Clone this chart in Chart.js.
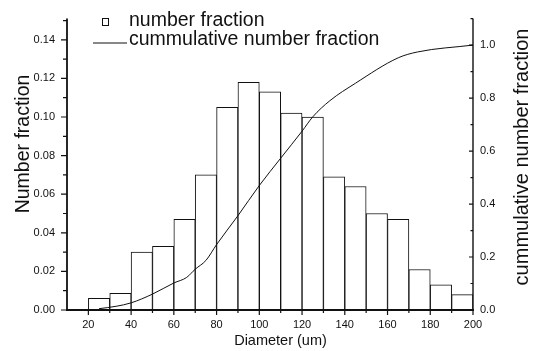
<!DOCTYPE html>
<html>
<head>
<meta charset="utf-8">
<script src="https://cdn.jsdelivr.net/npm/chart.js@4"></script>
<style>
html,body{margin:0;padding:0;background:#fff;}
#wrap{position:relative;width:536px;height:351px;}
</style>
</head>
<body>
<div id="wrap"><canvas id="c"></canvas></div>
<script>
// ---- data ----
const binStarts = [20,30,40,50,60,70,80,90,100,110,120,130,140,150,160,170,180,190];
const binWidth = 10;
const numberFraction = [0.006,0.0086,0.030,0.033,0.047,0.070,0.105,0.118,0.113,0.102,0.100,0.069,0.064,0.050,0.047,0.021,0.013,0.008];
const cumDiameter = [25,33,40,50,60,66,70,75,80,90,100,110,120,125,133,145,165,174,200];
const cumFraction = [0.005,0.014,0.027,0.060,0.102,0.123,0.154,0.187,0.247,0.356,0.470,0.573,0.675,0.729,0.790,0.856,0.952,0.974,1.000];
const xTicks = [20,40,60,80,100,120,140,160,180,200];
const yTicks = [0,0.02,0.04,0.06,0.08,0.10,0.12,0.14];
const y2Ticks = [0,0.2,0.4,0.6,0.8,1.0];
const xTitle = 'Diameter (um)';
const yTitle = 'Number fraction';
const y2Title = 'cummulative number fraction';
const legendBar = 'number fraction';
const legendLine = 'cummulative number fraction';

const FONT = "'Liberation Sans', Arial, Helvetica, sans-serif";
const INK = '#111';

const barData = binStarts.map((s, i) => ({x: s + binWidth / 2, y: numberFraction[i]}));
const lineData = cumDiameter.map((d, i) => ({x: d, y: cumFraction[i]}));

function mids(arr, extraEnd) {
  const out = [];
  for (let i = 0; i < arr.length - 1; i++) out.push((arr[i] + arr[i + 1]) / 2);
  if (extraEnd !== undefined) out.push(arr[arr.length - 1] + (arr[1] - arr[0]) / 2);
  return out;
}

const decor = {
  id: 'decor',
  afterDraw(chart) {
    const ctx = chart.ctx;
    const a = chart.chartArea;
    const sx = chart.scales.x, sy = chart.scales.y, sy2 = chart.scales.y2;
    ctx.save();
    ctx.strokeStyle = INK;
    ctx.fillStyle = INK;
    // axis lines
    ctx.lineWidth = 1.8;
    ctx.beginPath();
    ctx.moveTo(a.left, a.top); ctx.lineTo(a.left, a.bottom + 1);
    ctx.moveTo(a.left - 1, a.bottom); ctx.lineTo(a.right + 1, a.bottom);
    ctx.stroke();
    ctx.lineWidth = 1.4;
    ctx.beginPath();
    ctx.moveTo(a.right, a.top); ctx.lineTo(a.right, a.bottom);
    ctx.stroke();
    // ticks
    ctx.lineWidth = 1.2;
    ctx.beginPath();
    xTicks.forEach(v => { const p = sx.getPixelForValue(v); ctx.moveTo(p, a.bottom); ctx.lineTo(p, a.bottom + 5); });
    mids(xTicks).concat([xTicks[0] - 10].filter(v => v > sx.min)).forEach(v => { const p = sx.getPixelForValue(v); ctx.moveTo(p, a.bottom); ctx.lineTo(p, a.bottom + 3); });
    yTicks.forEach(v => { const p = sy.getPixelForValue(v); ctx.moveTo(a.left, p); ctx.lineTo(a.left - 6, p); });
    mids(yTicks, true).filter(v => v <= sy.max).forEach(v => { const p = sy.getPixelForValue(v); ctx.moveTo(a.left, p); ctx.lineTo(a.left - 4, p); });
    y2Ticks.forEach(v => { const p = sy2.getPixelForValue(v); ctx.moveTo(a.right, p); ctx.lineTo(a.right - 4, p); });
    mids(y2Ticks, true).filter(v => v <= sy2.max + 1e-9).forEach(v => { const p = sy2.getPixelForValue(v); ctx.moveTo(a.right, p); ctx.lineTo(a.right - 2.5, p); });
    ctx.stroke();

    // axis titles
    ctx.textAlign = 'center';
    ctx.textBaseline = 'alphabetic';
    ctx.font = '14.5px ' + FONT;
    ctx.fillText(xTitle, 280.5, 345);

    ctx.save();
    ctx.font = '19.5px ' + FONT;
    ctx.translate(29, 144);
    ctx.rotate(-Math.PI / 2);
    ctx.fillText(yTitle, 0, 0);
    ctx.restore();

    ctx.save();
    ctx.font = '20px ' + FONT;
    ctx.translate(528, 157);
    ctx.rotate(-Math.PI / 2);
    ctx.fillText(y2Title, 0, 0);
    ctx.restore();

    // legend
    ctx.lineWidth = 1;
    ctx.strokeRect(102.5, 18.5, 6, 7);
    ctx.beginPath();
    ctx.moveTo(93, 43); ctx.lineTo(127, 43);
    ctx.stroke();
    ctx.textAlign = 'left';
    ctx.font = '19.5px ' + FONT;
    ctx.fillText(legendBar, 129, 26);
    ctx.fillText(legendLine, 129, 45);
    ctx.restore();
  }
};

const tickFont = {family: FONT, size: 11};

new Chart(document.getElementById('c'), {
  type: 'bar',
  data: {
    datasets: [
      {
        type: 'line',
        label: legendLine,
        data: lineData,
        yAxisID: 'y2',
        borderColor: INK,
        borderWidth: 1,
        pointRadius: 0,
        fill: false,
        cubicInterpolationMode: 'monotone',
        order: 0
      },
      {
        type: 'bar',
        label: legendBar,
        data: barData,
        yAxisID: 'y',
        backgroundColor: '#fff',
        borderColor: INK,
        borderWidth: 1,
        borderSkipped: 'start',
        barPercentage: 1,
        categoryPercentage: 1,
        order: 1
      }
    ]
  },
  options: {
    responsive: true,
    maintainAspectRatio: false,
    animation: false,
    events: [],
    layout: {padding: {top: 7, left: 0, right: 0, bottom: 0}},
    plugins: {legend: {display: false}, tooltip: {enabled: false}},
    scales: {
      x: {
        type: 'linear',
        position: 'bottom',
        min: 10, max: 200,
        offset: false,
        grid: {display: false, drawTicks: false},
        border: {display: false},
        afterBuildTicks: s => { s.ticks = xTicks.map(v => ({value: v})); },
        afterFit: s => { s.height = 41; },
        ticks: {color: INK, font: tickFont, padding: 8, maxRotation: 0, autoSkip: false, callback: v => String(v)}
      },
      y: {
        type: 'linear',
        position: 'left',
        min: 0, max: 0.151,
        grid: {display: false, drawTicks: false},
        border: {display: false},
        afterBuildTicks: s => { s.ticks = yTicks.map(v => ({value: v})); },
        afterFit: s => { s.width = 67; },
        ticks: {color: INK, font: tickFont, padding: 12, autoSkip: false, callback: v => Number(v).toFixed(2)}
      },
      y2: {
        type: 'linear',
        position: 'right',
        min: 0, max: 1.1,
        grid: {display: false, drawTicks: false},
        border: {display: false},
        afterBuildTicks: s => { s.ticks = y2Ticks.map(v => ({value: v})); },
        afterFit: s => { s.width = 63; },
        ticks: {color: INK, font: tickFont, padding: 7, autoSkip: false, callback: v => Number(v).toFixed(1)}
      }
    }
  },
  plugins: [decor]
});
</script>
</body>
</html>
